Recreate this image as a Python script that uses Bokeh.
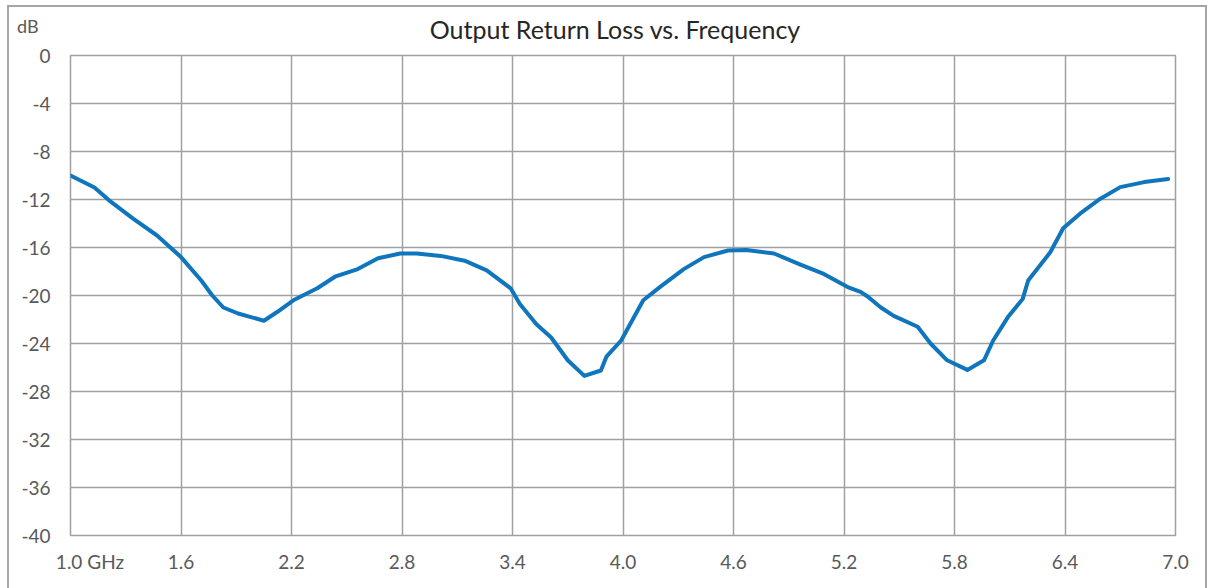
from bokeh.plotting import figure
from bokeh.models import FixedTicker, PrintfTickFormatter, CustomJSTickFormatter, Range1d, Div
from bokeh.layouts import column
from bokeh.embed import file_html
from bokeh.resources import INLINE

freq_ghz = [1.00, 1.13, 1.22, 1.34, 1.47, 1.60, 1.71, 1.77, 1.83, 1.91,
            1.98, 2.05, 2.12, 2.21, 2.34, 2.44, 2.56, 2.67, 2.79, 2.88,
            3.01, 3.14, 3.26, 3.39, 3.44, 3.53, 3.61, 3.70, 3.79, 3.88,
            3.91, 3.99, 4.11, 4.20, 4.33, 4.44, 4.57, 4.67, 4.82, 4.96,
            5.09, 5.22, 5.29, 5.33, 5.40, 5.47, 5.60, 5.67, 5.76, 5.87,
            5.96, 6.01, 6.09, 6.17, 6.20, 6.32, 6.39, 6.48, 6.59, 6.70,
            6.83, 6.96]
return_loss_db = [-10.0, -11.0, -12.2, -13.6, -15.0, -16.8, -18.75, -20.0, -21.0, -21.5,
                  -21.8, -22.1, -21.4, -20.4, -19.4, -18.4, -17.8, -16.9, -16.5, -16.5,
                  -16.7, -17.1, -17.9, -19.4, -20.7, -22.4, -23.5, -25.4, -26.7, -26.25,
                  -25.1, -23.75, -20.4, -19.3, -17.8, -16.8, -16.25, -16.2, -16.5, -17.4,
                  -18.2, -19.3, -19.7, -20.1, -21.0, -21.7, -22.6, -24.0, -25.4, -26.2,
                  -25.4, -23.75, -21.8, -20.3, -18.75, -16.4, -14.4, -13.2, -11.95, -10.97,
                  -10.55, -10.3]

x_ticks = [1.0, 1.6, 2.2, 2.8, 3.4, 4.0, 4.6, 5.2, 5.8, 6.4, 7.0]
y_ticks = [0, -4, -8, -12, -16, -20, -24, -28, -32, -36, -40]

title_text = "Output Return Loss vs. Frequency"
x_unit = "GHz"
y_unit = "dB"

FONT = "Lato"
GRID = "#A0A0A0"
TICK_COLOR = "#595959"
BORDER = "2px solid #A6A6A6"

header = Div(
    width=1196, height=37, margin=0,
    text=(
        '<div style="position:relative;width:1196px;height:37px;font-family:Lato;">'
        f'<span style="position:absolute;left:8px;top:19px;transform:translateY(-50%);'
        f'font-size:18px;line-height:1;color:{TICK_COLOR};">{y_unit}</span>'
        f'<span style="position:absolute;left:606px;top:23px;transform:translate(-50%,-50%);'
        f'font-size:25px;line-height:1.1;color:#262626;white-space:nowrap;">{title_text}</span>'
        '</div>'
    ),
)

p = figure(width=1196, height=544, output_backend="svg", toolbar_location=None,
           x_range=Range1d(1.0, 7.0), y_range=Range1d(-40, 0),
           min_border_left=61, min_border_right=30, min_border_top=11, min_border_bottom=53)
p.background_fill_color = "white"
p.border_fill_color = "white"
p.outline_line_color = GRID
p.outline_line_width = 1.5

p.xaxis.ticker = FixedTicker(ticks=x_ticks)
p.yaxis.ticker = FixedTicker(ticks=y_ticks)
p.xaxis.formatter = CustomJSTickFormatter(
    args=dict(unit=x_unit),
    code="const s = tick.toFixed(1); "
         "return (Math.abs(tick - 1.0) < 1e-9) ? '\\u00a0'.repeat(8) + s + '\\u00a0' + unit : s;")
p.yaxis.formatter = PrintfTickFormatter(format="%d")
for ax in (p.xaxis, p.yaxis):
    ax.axis_line_color = None
    ax.major_tick_line_color = None
    ax.minor_tick_line_color = None
    ax.major_tick_out = 0
    ax.major_label_text_font = FONT
    ax.major_label_text_font_size = "19px"
    ax.major_label_text_color = TICK_COLOR
p.xaxis.major_label_standoff = 14
p.yaxis.major_label_standoff = 20

p.xgrid.ticker = FixedTicker(ticks=x_ticks)
p.ygrid.ticker = FixedTicker(ticks=y_ticks)
p.grid.grid_line_color = GRID
p.grid.grid_line_width = 1.5

p.line(freq_ghz, return_loss_db, line_color="#0F75BD", line_width=4,
       line_join="round", line_cap="round")

layout = column(header, p, spacing=0,
                styles={"border-top": BORDER, "border-left": BORDER, "border-right": BORDER,
                        "margin-left": "7px", "margin-top": "5px", "background": "white"})

open("out.html", "w").write(file_html(layout, INLINE))
